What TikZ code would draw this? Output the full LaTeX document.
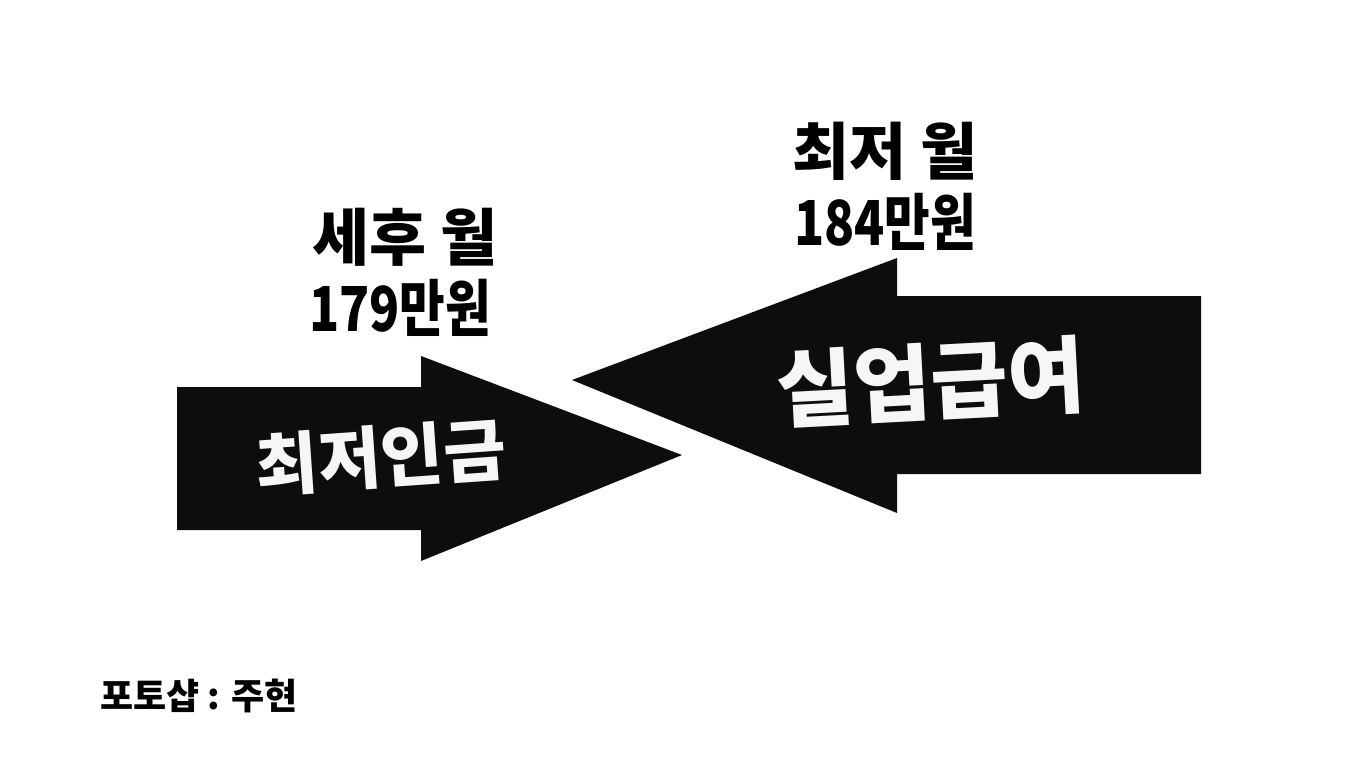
\documentclass[tikz,border=0pt]{standalone}
\usepackage{fontspec}
\newfontfamily\kr{Noto Sans CJK KR}
\definecolor{ink}{HTML}{0D0D0D}
\definecolor{paper}{HTML}{F7F5F5}
\tikzset{
  bigarrow/.style={fill=ink, draw=none},
  label/.style={font=\kr\bfseries\fontsize{62}{66}\selectfont, text=black, align=center, inner sep=0pt},
  numlabel/.style={label, xscale=0.8},
  inlabel/.style={font=\kr\bfseries\fontsize{68}{72}\selectfont, text=paper, inner sep=0pt},
  biglabel/.style={font=\kr\bfseries\fontsize{84}{88}\selectfont, text=paper, inner sep=0pt},
  credit/.style={font=\kr\bfseries\fontsize{36}{40}\selectfont, text=black, inner sep=0pt, anchor=west}
}
\begin{document}
\begin{tikzpicture}[x=1pt,y=-1pt]
\useasboundingbox (0,0) rectangle (1358,765);
\fill[white] (0,0) rectangle (1358,765);
% left arrow
\fill[bigarrow] (177,387) -- (421,387) -- (421,356) -- (682,455) -- (421,561) -- (421,530) -- (177,530) -- cycle;
% right arrow
\fill[bigarrow] (1201,296) -- (897,296) -- (897,258) -- (572,380) -- (897,513) -- (897,474) -- (1201,474) -- cycle;
% labels
\node[label] (a1) at (405,237) {세후 월};
\node[numlabel] (a2) at (400,308) {179만원};
\node[label] (b1) at (885,151) {최저 월};
\node[numlabel] (b2) at (885,222) {184만원};
\node[inlabel, rotate=4] (c1) at (381,457) {최저인금};
\node[biglabel, rotate=3] (c2) at (931,382) {실업급여};
\node[credit] (d) at (100,696) {포토샵 : 주현};
\end{tikzpicture}
\end{document}
